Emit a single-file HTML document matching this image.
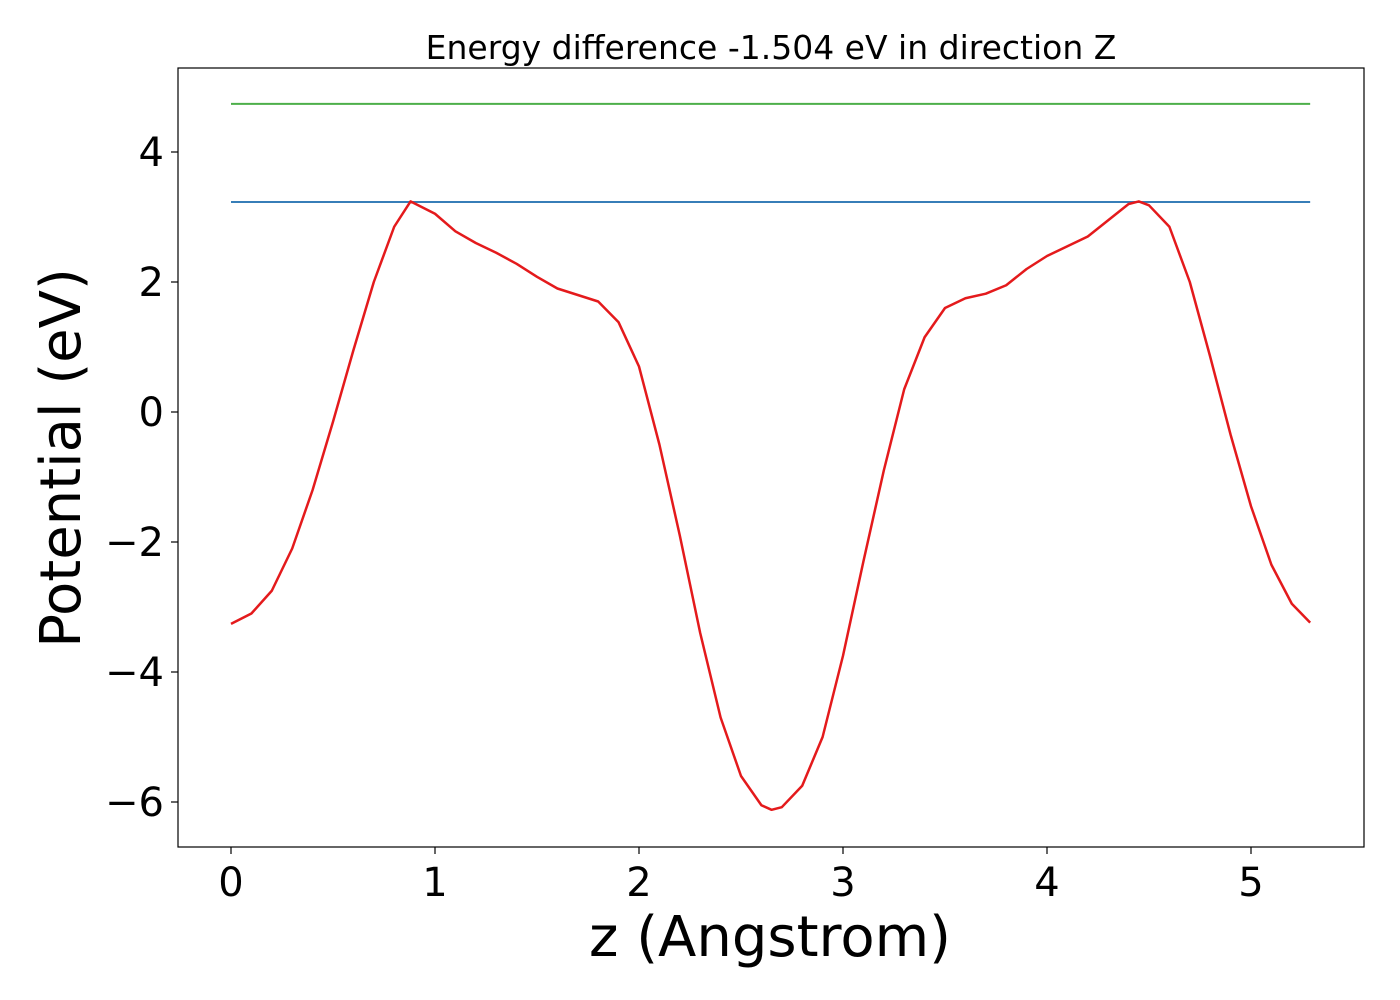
<!DOCTYPE html>
<html><head><meta charset="utf-8"><style>body{margin:0;background:#fff}svg{display:block}text{font-family:"DejaVu Sans","Liberation Sans",sans-serif}</style></head>
<body>
<svg id="chart" width="1400" height="1000" xmlns="http://www.w3.org/2000/svg"></svg>
<script>
const zVals=[0,0.1,0.2,0.3,0.4,0.5,0.6,0.7,0.8,0.88,1.0,1.1,1.2,1.3,1.4,1.5,1.6,1.7,1.8,1.9,2.0,2.1,2.2,2.3,2.4,2.5,2.6,2.65,2.7,2.8,2.9,3.0,3.1,3.2,3.3,3.4,3.5,3.6,3.7,3.8,3.9,4.0,4.1,4.2,4.3,4.4,4.45,4.5,4.6,4.7,4.8,4.9,5.0,5.1,5.2,5.29];
const potVals=[-3.26,-3.1,-2.75,-2.1,-1.2,-0.15,0.95,2.0,2.85,3.24,3.05,2.78,2.6,2.45,2.28,2.08,1.9,1.8,1.7,1.38,0.7,-0.5,-1.9,-3.4,-4.7,-5.6,-6.05,-6.12,-6.08,-5.75,-5.0,-3.75,-2.3,-0.9,0.35,1.15,1.6,1.75,1.82,1.95,2.2,2.4,2.55,2.7,2.95,3.2,3.24,3.18,2.85,2.0,0.85,-0.35,-1.45,-2.35,-2.95,-3.24];
const greenLevel=4.74, blueLevel=3.23, zMax=5.29;
const xTicks=[0,1,2,3,4,5], yTicks=[4,2,0,-2,-4,-6];
const X=v=>231+v*204, Y=v=>412-v*65;
const svg=document.getElementById('chart');
const NS='http://www.w3.org/2000/svg';
function mk(t,a,txt){const e=document.createElementNS(NS,t);for(const k in a)e.setAttribute(k,a[k]);if(txt!=null)e.textContent=txt;svg.appendChild(e);return e;}
let e;
e=mk('rect',{x:178,y:68,width:1186,height:779,fill:'none',stroke:'#000','stroke-width':1.2});


xTicks.forEach(t=>{
 e=mk('line',{x1:X(t),x2:X(t),y1:847,y2:854,stroke:'#000','stroke-width':1.2});
 
 
 e=mk('text',{x:X(t),y:896,'font-size':40,'text-anchor':'middle'},String(t));
 
 
});
yTicks.forEach(t=>{
 e=mk('line',{x1:171,x2:178,y1:Y(t),y2:Y(t),stroke:'#000','stroke-width':1.2});
 
 
 e=mk('text',{x:164,y:Y(t)+14,'font-size':40,'text-anchor':'end'},t<0?'\u2212'+(-t):String(t));
 
 
});
e=mk('line',{x1:X(0),x2:X(zMax),y1:Y(greenLevel),y2:Y(greenLevel),stroke:'#4daf4a','stroke-width':2});


e=mk('line',{x1:X(0),x2:X(zMax),y1:Y(blueLevel),y2:Y(blueLevel),stroke:'#377eb8','stroke-width':2});


e=mk('polyline',{points:zVals.map((z,i)=>X(z)+','+Y(potVals[i])).join(' '),fill:'none',stroke:'#e41a1c','stroke-width':2.5,'stroke-linejoin':'round'});


e=mk('text',{x:771,y:59,'font-size':33,'text-anchor':'middle'},'Energy difference -1.504 eV in direction Z');


e=mk('text',{x:770,y:956,'font-size':56,'text-anchor':'middle'},'z (Angstrom)');


e=mk('text',{x:80,y:458,'font-size':56,'text-anchor':'middle',transform:'rotate(-90 80 458)'},'Potential (eV)');


</script>
</body></html>
